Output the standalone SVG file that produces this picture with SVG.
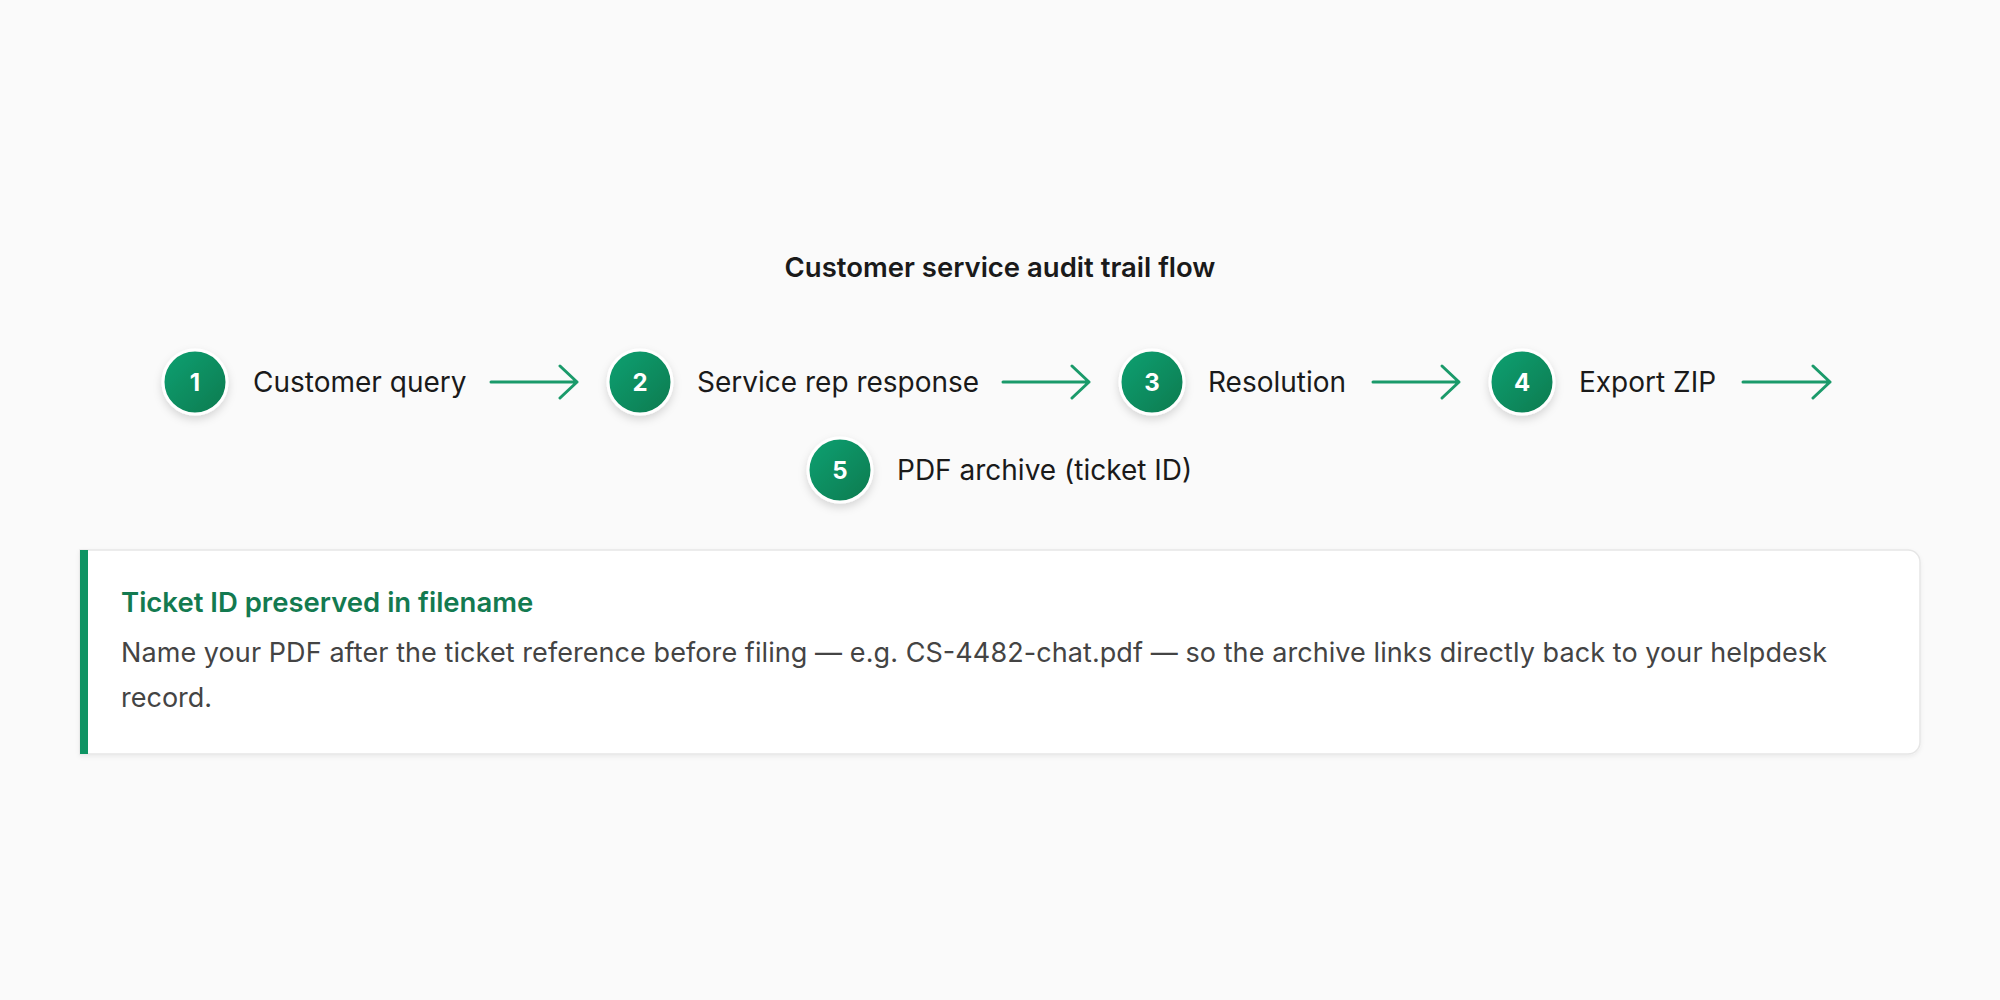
<svg xmlns="http://www.w3.org/2000/svg" width="2000" height="1000" viewBox="0 0 2000 1000">
  <defs>
    <linearGradient id="g" x1="0" y1="0" x2="1" y2="1">
      <stop offset="0" stop-color="#13a172"/>
      <stop offset="1" stop-color="#067a4f"/>
    </linearGradient>
    <filter id="sh" x="-50%" y="-50%" width="200%" height="200%">
      <feDropShadow dx="0" dy="4" stdDeviation="4" flood-color="#000" flood-opacity="0.14"/>
    </filter>
    <filter id="cardsh" x="-5%" y="-20%" width="110%" height="140%">
      <feDropShadow dx="0" dy="2" stdDeviation="2" flood-color="#000" flood-opacity="0.06"/>
    </filter>
    <clipPath id="cardclip">
      <path d="M80 550 H1908 A12 12 0 0 1 1920 562 V742 A12 12 0 0 1 1908 754 H80 Z"/>
    </clipPath>
  </defs>
  <style>
    .t{font-family:Inter,"Liberation Sans",sans-serif}
    .title{font-size:27.5px;font-weight:600;fill:#1a1a1a}
    .lbl{font-size:28px;font-weight:400;fill:#1a1a1a}
    .num{font-size:24px;font-weight:700;fill:#fff}
    .c{fill:url(#g);stroke:#fff;stroke-width:3;filter:url(#sh)}
    .arr{fill:none;stroke:#1a9a6a;stroke-width:3;stroke-linecap:round;stroke-linejoin:round}
    .h{font-size:27.5px;font-weight:600;fill:#137a50}
    .b{font-size:27px;font-weight:400;fill:#444}
  </style>
  <rect width="2000" height="1000" fill="#fafafa"/>
  <text class="t title" x="1000" y="277" text-anchor="middle">Customer service audit trail flow</text>

  <g id="connectors">
    <path class="arr" d="M491 382 H577 M560 366 L577 382 L560 398"/>
    <path class="arr" d="M1003 382 H1089 M1072 366 L1089 382 L1072 398"/>
    <path class="arr" d="M1373 382 H1459 M1442 366 L1459 382 L1442 398"/>
    <path class="arr" d="M1743 382 H1830 M1813 366 L1830 382 L1813 398"/>
  </g>

  <g id="node1">
    <circle class="c" cx="195" cy="382" r="32"/>
    <text class="t num" x="195" y="391" text-anchor="middle">1</text>
    <text class="t lbl" x="253" y="392">Customer query</text>
  </g>
  <g id="node2">
    <circle class="c" cx="640" cy="382" r="32"/>
    <text class="t num" x="640" y="391" text-anchor="middle">2</text>
    <text class="t lbl" x="697" y="392">Service rep response</text>
  </g>
  <g id="node3">
    <circle class="c" cx="1152" cy="382" r="32"/>
    <text class="t num" x="1152" y="391" text-anchor="middle">3</text>
    <text class="t lbl" x="1208" y="392">Resolution</text>
  </g>
  <g id="node4">
    <circle class="c" cx="1522" cy="382" r="32"/>
    <text class="t num" x="1522" y="391" text-anchor="middle">4</text>
    <text class="t lbl" x="1579" y="392">Export ZIP</text>
  </g>
  <g id="node5">
    <circle class="c" cx="840" cy="470" r="32"/>
    <text class="t num" x="840" y="479" text-anchor="middle">5</text>
    <text class="t lbl" x="897" y="480">PDF archive (ticket ID)</text>
  </g>

  <g id="card">
    <path d="M80 550 H1908 A12 12 0 0 1 1920 562 V742 A12 12 0 0 1 1908 754 H80 Z" fill="#fff" stroke="#e6e6e6" stroke-width="1.5" filter="url(#cardsh)"/>
    <rect x="80" y="550" width="8" height="204" fill="#0e9463" clip-path="url(#cardclip)"/>
    <text class="t h" x="121" y="612">Ticket ID preserved in filename</text>
    <text class="t b" x="121" y="662" textLength="1706" lengthAdjust="spacing">Name your PDF after the ticket reference before filing — e.g. CS-4482-chat.pdf — so the archive links directly back to your helpdesk</text>
    <text class="t b" x="121" y="707">record.</text>
  </g>
</svg>
